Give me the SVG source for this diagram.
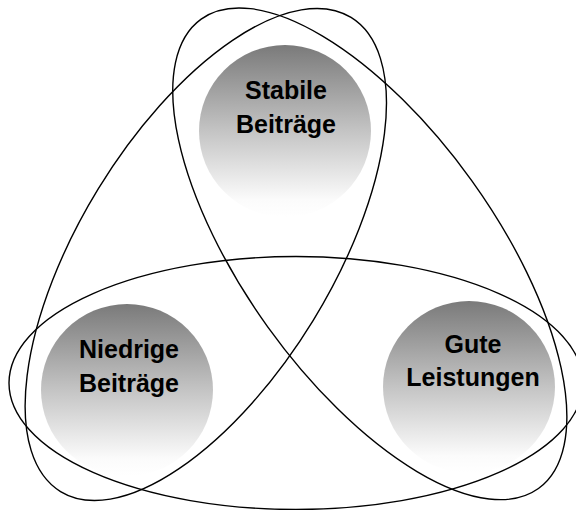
<svg xmlns="http://www.w3.org/2000/svg" width="576" height="510" viewBox="0 0 576 510">
  <defs>
    <linearGradient id="ballGrad" x1="0" y1="0" x2="0" y2="1">
      <stop offset="0" stop-color="#7a7a7a"/>
      <stop offset="0.5" stop-color="#c4c4c4"/>
      <stop offset="0.9" stop-color="#fbfbfb"/>
      <stop offset="1" stop-color="#ffffff"/>
    </linearGradient>
  </defs>
  <style>
    .ring { fill: none; stroke: #000; stroke-width: 1.4; }
    .ball { fill: url(#ballGrad); }
    .label { font-family: "Liberation Sans", Arial, sans-serif; font-weight: bold; font-size: 25px; fill: #000; text-anchor: middle; }
  </style>
  <rect width="576" height="510" fill="#fff"/>
  <g id="connectors">
    <ellipse class="ring" cx="296" cy="383" rx="287" ry="126.5"/>
    <ellipse class="ring" cx="0" cy="0" rx="289" ry="125.5" transform="translate(369.8 253.8) rotate(54.3)"/>
    <ellipse class="ring" cx="0" cy="0" rx="278" ry="126" transform="translate(205.8 254.5) rotate(-58.5)"/>
  </g>
  <g id="node-stabile">
    <circle class="ball" cx="285" cy="131" r="86"/>
    <text class="label" x="286" y="98.5">Stabile</text>
    <text class="label" x="286" y="133">Beiträge</text>
  </g>
  <g id="node-niedrige">
    <circle class="ball" cx="127" cy="390" r="86"/>
    <text class="label" x="129" y="358">Niedrige</text>
    <text class="label" x="129" y="391.5">Beiträge</text>
  </g>
  <g id="node-gute">
    <circle class="ball" cx="469" cy="387" r="86"/>
    <text class="label" x="473" y="352.5">Gute</text>
    <text class="label" x="473" y="386">Leistungen</text>
  </g>
</svg>
